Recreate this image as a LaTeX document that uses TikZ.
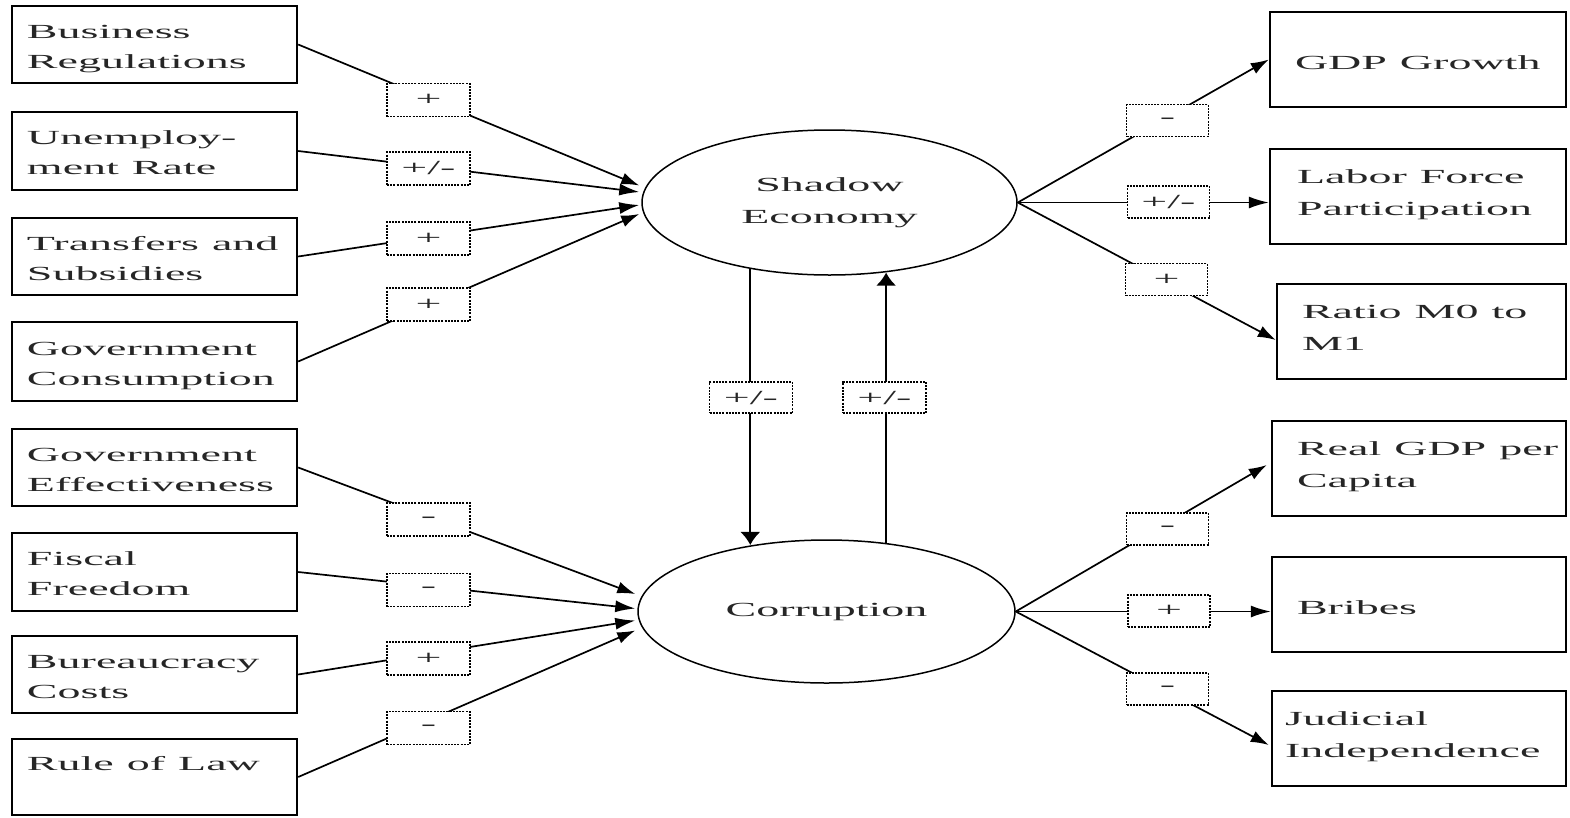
\documentclass[tikz,border=0pt]{standalone}
\usepackage{fontspec}
\setmainfont{Liberation Serif}[FakeStretch=2.3]
\usetikzlibrary{arrows.meta,shapes.geometric}
\newcommand{\topstrut}[1]{\rule{0pt}{#1pt}}
\newcommand{\botstrut}{\rule[-7pt]{0pt}{7pt}}
\newcommand{\ws}{\hspace{13pt}}
\begin{document}
\begin{tikzpicture}[x=1pt,y=-1pt,
  every node/.style={font=\fontsize{20}{30}\selectfont, text=black!85},
  box/.style={draw=black, line width=2.4pt, rectangle, inner ysep=0pt, align=left},
  lbox/.style={box, inner xsep=15pt, text width=255pt,
    execute at begin node={\topstrut{24}}, execute at end node={\botstrut}},
  rbox/.style={box, minimum height=95pt,
    execute at begin node={\topstrut{12}}, execute at end node={\botstrut}},
  rbox1/.style={box, minimum height=95pt,
    execute at begin node={\topstrut{26}}, execute at end node={\botstrut}},
  oval/.style={draw=black, ellipse, line width=1.5pt, inner sep=0pt, align=center},
  sgn/.style={draw=black, dash pattern=on 2pt off 1.2pt, line width=1.8pt, fill=white, minimum width=83pt, minimum height=33pt, inner sep=0pt},
  conn/.style={line width=1.7pt, -{Latex[length=18pt,width=12pt]}},
  hconn/.style={line width=1.7pt, -{Latex[length=20pt,width=12pt]}},
  vconn/.style={line width=1.7pt, -{Latex[length=13pt,width=20pt]}}
]
\useasboundingbox (0,0) rectangle (1570,817);

% left boxes
\node[lbox, minimum height=77pt] (b1) at (154.5,44.5) {Business\\Regulations};
\node[lbox, minimum height=78pt] (b2) at (154.5,151) {Unemploy-\\ment\ws Rate};
\node[lbox, minimum height=77pt] (b3) at (154.5,256.5) {Transfers\ws and\\Subsidies};
\node[lbox, minimum height=79pt] (b4) at (154.5,361.5) {Government\\Consumption};
\node[lbox, minimum height=77pt] (b5) at (154.5,467.5) {Government\\Effectiveness};
\node[lbox, minimum height=78pt] (b6) at (154.5,572) {Fiscal\\Freedom};
\node[lbox, minimum height=77pt] (b7) at (154.5,674.5) {Bureaucracy\\Costs};
\node[lbox, minimum height=76pt] (b8) at (154.5,777) {Rule\ws of\ws Law\\\mbox{}};

% ellipses
\node[oval, minimum width=375pt, minimum height=145pt] (se) at (829.5,202.5) {Shadow\\[2pt]Economy};
\node[oval, minimum width=377pt, minimum height=143pt] (co) at (826.5,611.5) {Corruption};

% right boxes
\node[rbox1, inner xsep=25pt, text width=246pt] (r1) at (1418,59.5) {GDP\ws Growth};
\node[rbox, inner xsep=27pt, text width=242pt] (r2) at (1418,196.5) {Labor\ws Force\\[2pt]Participation};
\node[rbox, inner xsep=25pt, text width=239pt] (r3) at (1421.5,331.5) {Ratio\ws M0\ws to\\[2pt]M1};
\node[rbox, inner xsep=25pt, text width=244pt] (r4) at (1419,468.5) {\mbox{Real\ws GDP\ws per}\\[2pt]Capita};
\node[rbox1, inner xsep=25pt, text width=244pt] (r5) at (1419,604.5) {Bribes};
\node[rbox, inner xsep=13pt, text width=268pt] (r6) at (1419,738.5) {Judicial\\[2pt]Independence};

% left connectors
\draw[conn] (b1.east) -- ([shift={(-2,-17)}]se.west);
\draw[hconn] (b2.east) -- ([shift={(-2,-10.5)}]se.west);
\draw[hconn] (b3.east) -- ([shift={(-2,2.5)}]se.west);
\draw[conn] (b4.east) -- ([shift={(-2,11.5)}]se.west);
\draw[conn] (b5.east) -- ([shift={(-2,-17.5)}]co.west);
\draw[hconn] (b6.east) -- ([shift={(-2,-3)}]co.west);
\draw[hconn] (b7.east) -- ([shift={(-2,9)}]co.west);
\draw[conn] (b8.east) -- ([shift={(-2,19)}]co.west);

% right connectors
\draw[conn] (se.east) -- (r1.west);
\draw[hconn] (se.east) -- (se.east -| r2.west);
\draw[conn] (se.east) -- ([shift={(0,8.5)}]r3.west);
\draw[conn] (co.east) -- ([shift={(-4,-3.5)}]r4.west);
\draw[hconn] (co.east) -- (co.east -| r5.west);
\draw[conn] (co.east) -- ([shift={(-2,6.5)}]r6.west);

% vertical connectors
\draw[vconn] (se.220.42) -- (se.220.42 |- co.138.6);
\draw[vconn] (co.49.83) -- (co.49.83 |- se.308.15);

% sign labels
\node[sgn] (l1) at (428.5,100) {+};
\node[sgn] (l2) at (428.5,168.5) {+/-};
\node[sgn] (l3) at (428.5,238.5) {+};
\node[sgn] (l4) at (428.5,304.5) {+};
\node[sgn] (l5) at (428.5,519.5) {-};
\node[sgn] (l6) at (428.5,590) {-};
\node[sgn] (l7) at (428.5,658.5) {+};
\node[sgn] (l8) at (428.5,728) {-};
\node[sgn, minimum height=31pt] (m1) at (751,397.5) {+/-};
\node[sgn, minimum height=31pt] (m2) at (884.5,397.5) {+/-};
\node[sgn, minimum width=82pt, minimum height=32pt] (q1) at (1167.5,120.5) {-};
\node[sgn, minimum width=82pt, minimum height=32pt] (q2) at (1168.5,202) {+/-};
\node[sgn, minimum width=82pt, minimum height=32pt] (q3) at (1166.5,279.5) {+};
\node[sgn, minimum width=82pt, minimum height=32pt] (q4) at (1167.5,529) {-};
\node[sgn, minimum width=82pt, minimum height=32pt] (q5) at (1169,611) {+};
\node[sgn, minimum width=82pt, minimum height=32pt] (q6) at (1167.5,689) {-};
\end{tikzpicture}
\end{document}
